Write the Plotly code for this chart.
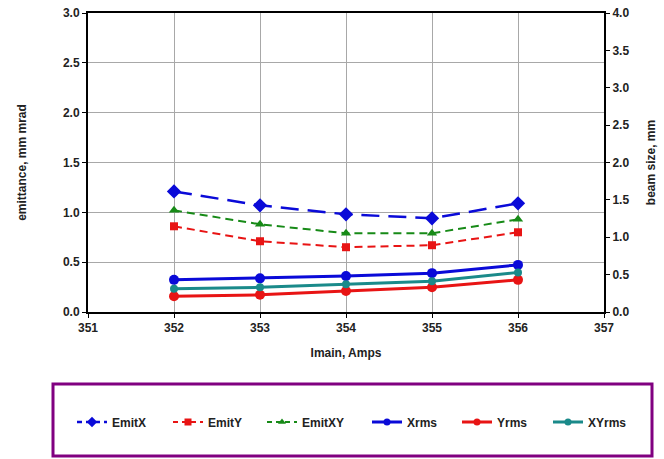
import plotly.graph_objects as go

imain = [352, 353, 354, 355, 356]
emit_x = [1.21, 1.07, 0.98, 0.94, 1.09]
emit_y = [0.86, 0.71, 0.65, 0.67, 0.80]
emit_xy = [1.02, 0.88, 0.79, 0.79, 0.93]
x_rms = [0.43, 0.45, 0.48, 0.52, 0.63]
y_rms = [0.21, 0.23, 0.28, 0.33, 0.43]
xy_rms = [0.31, 0.33, 0.37, 0.41, 0.53]

BLUE = "#0a0ad8"
RED = "#e81414"
GREEN = "#178a17"
TEAL = "#1a8a8a"
FONT = "Liberation Sans, Arial, sans-serif"

series = [
    dict(name="EmitX", y=emit_x, axis="y", color=BLUE, width=2.5, dash="18px,9px",
         symbol="diamond", size=11, lsize=8),
    dict(name="EmitY", y=emit_y, axis="y", color=RED, width=2, dash="8px,5px",
         symbol="square", size=8, lsize=7),
    dict(name="EmitXY", y=emit_xy, axis="y", color=GREEN, width=2, dash="8px,5px",
         symbol="triangle-up", size=9, lsize=7),
    dict(name="Xrms", y=x_rms, axis="y2", color=BLUE, width=3, dash="solid",
         symbol="circle", size=10, lsize=7),
    dict(name="Yrms", y=y_rms, axis="y2", color=RED, width=3, dash="solid",
         symbol="circle", size=10, lsize=7),
    dict(name="XYrms", y=xy_rms, axis="y2", color=TEAL, width=3, dash="solid",
         symbol="circle", size=8, lsize=7),
]
# pixel x where each legend symbol starts
legend_px = [77, 173, 267, 372, 462, 553]

fig = go.Figure()
legends = {}
for i, s in enumerate(series):
    lg = "legend" if i == 0 else f"legend{i+1}"
    fig.add_trace(go.Scatter(x=imain, y=s["y"], name=s["name"], mode="lines+markers",
                             yaxis=s["axis"], showlegend=False,
                             line=dict(color=s["color"], width=s["width"], dash=s["dash"]),
                             marker=dict(symbol=s["symbol"], size=s["size"], color=s["color"])))
    # legend entry with smaller marker (no data drawn)
    fig.add_trace(go.Scatter(x=[None], y=[None], name=s["name"], mode="lines+markers",
                             yaxis=s["axis"], showlegend=True, legend=lg,
                             line=dict(color=s["color"], width=s["width"],
                                       dash="solid" if s["dash"] == "solid" else "5px,4px"),
                             marker=dict(symbol=s["symbol"], size=s["lsize"], color=s["color"])))
    legends[lg] = dict(orientation="h", x=(legend_px[i] - 5 - 88) / 516, xanchor="left",
                       y=(312 - 422) / 299, yanchor="middle",
                       font=dict(family=FONT, size=12, color="#222222", weight="bold"),
                       bgcolor="rgba(0,0,0,0)", borderwidth=0, itemwidth=30)

tickfont = dict(family=FONT, size=12, color="#222222", weight="bold")
titlefont = dict(family=FONT, size=12, color="#222222", weight="bold")

fig.update_layout(
    width=664, height=459,
    margin=dict(l=88, r=60, t=13, b=147, autoexpand=False),
    paper_bgcolor="white", plot_bgcolor="white",
    font=dict(family=FONT, size=12, color="#222222"),
    xaxis=dict(range=[351, 357], dtick=1, tick0=351, automargin=False,
               showgrid=True, gridcolor="#a8a8a8", gridwidth=1,
               showline=True, linecolor="black", linewidth=2, mirror=True,
               ticks="outside", ticklen=4, tickcolor="black",
               tickfont=tickfont, zeroline=False,
               title=dict(text="Imain, Amps", font=titlefont, standoff=14)),
    yaxis=dict(range=[0, 3.0], dtick=0.5, tickformat=".1f", automargin=False,
               showgrid=True, gridcolor="#a8a8a8", gridwidth=1,
               showline=True, linecolor="black", linewidth=2,
               ticks="outside", ticklen=4, tickcolor="black",
               tickfont=tickfont, zeroline=False,
               title=dict(text="emittance, mm mrad", font=titlefont, standoff=34)),
    yaxis2=dict(range=[0, 4.0], dtick=0.5, tickformat=".1f", overlaying="y", side="right",
                automargin=False,
                showgrid=False, showline=True, linecolor="black", linewidth=2,
                ticks="outside", ticklen=4, tickcolor="black",
                tickfont=tickfont, zeroline=False,
                title=dict(text="beam size, mm", font=titlefont, standoff=18)),
    shapes=[dict(type="rect", xref="paper", yref="paper",
                 x0=(53 - 88) / 516, x1=(652 - 88) / 516,
                 y0=(312 - 456) / 299, y1=(312 - 384) / 299,
                 line=dict(color="#800080", width=3), fillcolor="rgba(0,0,0,0)")],
    **legends,
)

fig.write_html("out.html")
